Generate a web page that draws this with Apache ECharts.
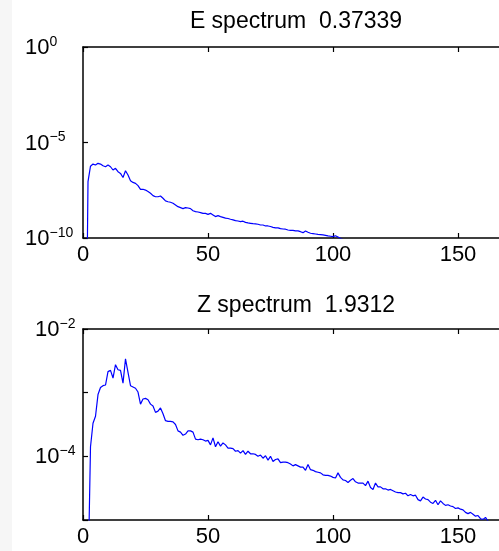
<!DOCTYPE html>
<html>
<head>
<meta charset="utf-8">
<title>E and Z spectrum</title>
<script src="https://cdn.jsdelivr.net/npm/echarts@6/dist/echarts.min.js"></script>
<style>
  html, body { margin: 0; padding: 0; background: #fff; }
  #chart { width: 499px; height: 551px; }
</style>
</head>
<body>
<div id="chart"></div>
<script>
// spectra, stored as log10 of the value, k = 1, 2, 3 ...
var eSpecLog10 = [
  -20, -7.05, -6.24, -6.13, -6.18, -6.09, -6.13, -6.22, -6.27, -6.18,
  -6.27, -6.44, -6.35, -6.53, -6.62, -6.83, -6.48, -6.70, -7.00, -7.09,
  -7.14, -7.26, -7.45, -7.45, -7.49, -7.57, -7.66, -7.78, -7.84, -7.84,
  -7.80, -7.92, -8.06, -8.10, -8.13, -8.18, -8.27, -8.36, -8.41, -8.46,
  -8.41, -8.43, -8.46, -8.57, -8.62, -8.64, -8.67, -8.71, -8.71, -8.76,
  -8.71, -8.79, -8.88, -8.83, -8.88, -8.92, -8.96, -8.98, -9.02, -9.05,
  -9.09, -9.11, -9.14, -9.12, -9.18, -9.21, -9.23, -9.25, -9.26, -9.28,
  -9.32, -9.32, -9.37, -9.37, -9.40, -9.44, -9.47, -9.47, -9.51, -9.53,
  -9.54, -9.58, -9.60, -9.60, -9.63, -9.63, -9.67, -9.72, -9.63, -9.70,
  -9.75, -9.77, -9.79, -9.81, -9.82, -9.84, -9.86, -9.89, -9.91, -9.93,
  -9.88, -9.95, -10.02, -10.08, -10.12, -10.18, -10.22, -10.26, -10.30, -10.33
];

var zSpecLog10 = [
  -20, -6.00, -3.85, -3.48, -3.37, -3.03, -2.92, -2.89, -2.88, -2.67,
  -2.65, -2.77, -2.56, -2.64, -2.65, -2.85, -2.47, -2.68, -2.89, -2.91,
  -2.93, -2.99, -3.18, -3.10, -3.09, -3.11, -3.18, -3.21, -3.31, -3.29,
  -3.24, -3.33, -3.44, -3.45, -3.45, -3.46, -3.50, -3.60, -3.62, -3.67,
  -3.65, -3.60, -3.60, -3.62, -3.73, -3.74, -3.73, -3.74, -3.76, -3.75,
  -3.82, -3.71, -3.85, -3.77, -3.84, -3.79, -3.82, -3.87, -3.87, -3.88,
  -3.92, -3.91, -3.95, -3.91, -3.97, -3.92, -3.96, -3.96, -3.97, -4.00,
  -3.98, -4.03, -3.99, -4.06, -4.00, -4.08, -4.05, -4.04, -4.10, -4.09,
  -4.09, -4.10, -4.12, -4.15, -4.13, -4.15, -4.17, -4.17, -4.22, -4.13,
  -4.21, -4.22, -4.24, -4.25, -4.26, -4.29, -4.30, -4.30, -4.31, -4.33,
  -4.34, -4.26, -4.33, -4.37, -4.38, -4.41, -4.375, -4.35, -4.40, -4.42,
  -4.42, -4.42, -4.46, -4.39, -4.49, -4.52, -4.42, -4.48, -4.48, -4.51,
  -4.51, -4.53, -4.52, -4.54, -4.56, -4.57, -4.57, -4.59, -4.58, -4.62,
  -4.60, -4.62, -4.61, -4.68, -4.70, -4.64, -4.67, -4.68, -4.72, -4.74,
  -4.69, -4.76, -4.70, -4.74, -4.77, -4.76, -4.78, -4.79, -4.82, -4.81,
  -4.83, -4.84, -4.88, -4.90, -4.88, -4.91, -4.94, -4.93, -4.98, -4.99,
  -4.96, -5.02, -5.05, -5.07, -5.10, -5.12, -5.15, -5.17, -5.20, -5.22
];

var titles = ['E spectrum  0.37339', 'Z spectrum  1.9312'];
var xTickStep = 50;

var font = '"Liberation Sans", Arial, Helvetica, sans-serif';

function toPairs(logs) {
  var out = [];
  for (var i = 0; i < logs.length; i++) {
    out.push([i + 1, Math.pow(10, logs[i])]);
  }
  return out;
}

// 10 with the exponent raised, like matlab does it
function powLabel(v, every) {
  var e = Math.round(Math.log10(v));
  if (e % every !== 0) return '';
  var s = e < 0 ? '\u2212' + (-e) : '' + e;
  return '{b|10}{s|' + s + '}';
}

var rich = {
  b: { fontSize: 22, lineHeight: 24, verticalAlign: 'bottom', fontFamily: font, color: '#000' },
  s: { fontSize: 14, verticalAlign: 'top', fontFamily: font, color: '#000' }
};

var axisLine = { show: true, onZero: false, lineStyle: { color: '#000', width: 1.5 } };
var axisTick = { show: true, inside: true, length: 5, lineStyle: { color: '#000', width: 1.2 } };

function xAxes(grid) {
  return [{
    type: 'value', gridIndex: grid, min: 0, max: 170, interval: xTickStep,
    axisLine: axisLine, axisTick: axisTick, splitLine: { show: false },
    axisLabel: { margin: 6, fontSize: 22, fontFamily: font, color: '#000', showMaxLabel: false }
  }, {
    type: 'value', gridIndex: grid, position: 'top', min: 0, max: 170, interval: xTickStep,
    axisLine: axisLine, axisTick: axisTick, splitLine: { show: false },
    axisLabel: { show: false }
  }];
}

var chart = echarts.init(document.getElementById('chart'));

var option = {
  backgroundColor: '#fff',
  animation: false,
  graphic: [{
    type: 'rect', left: 0, top: 0, z: -10,
    shape: { width: 12, height: 551 },
    style: { fill: '#f6f6f6' }
  }],
  title: [{
    text: titles[0], left: 296, top: 10, textAlign: 'center', padding: 0,
    textStyle: { fontSize: 23, fontWeight: 'normal', fontFamily: font, color: '#000' }
  }, {
    text: titles[1], left: 296, top: 294, textAlign: 'center', padding: 0,
    textStyle: { fontSize: 23, fontWeight: 'normal', fontFamily: font, color: '#000' }
  }],
  grid: [
    { left: 83, top: 47, width: 425, height: 191, outerBoundsMode: 'none' },
    { left: 83, top: 329, width: 425, height: 191, outerBoundsMode: 'none' }
  ],
  xAxis: xAxes(0).concat(xAxes(1)),
  yAxis: [{
    type: 'log', logBase: 10, gridIndex: 0, min: 1e-10, max: 1, interval: 5,
    axisLine: axisLine, axisTick: axisTick, splitLine: { show: false },
    axisLabel: { align: 'left', margin: 58, formatter: function (v) { return powLabel(v, 5); }, rich: rich }
  }, {
    type: 'log', logBase: 10, gridIndex: 1, min: 1e-5, max: 1e-2, interval: 1,
    axisLine: axisLine, axisTick: axisTick, splitLine: { show: false },
    axisLabel: { align: 'left', margin: 48, formatter: function (v) { return powLabel(v, 2); }, rich: rich }
  }],
  series: [{
    type: 'line', xAxisIndex: 0, yAxisIndex: 0,
    data: toPairs(eSpecLog10),
    showSymbol: false, clip: true,
    lineStyle: { color: '#0000ff', width: 1.2 }
  }, {
    type: 'line', xAxisIndex: 2, yAxisIndex: 1,
    data: toPairs(zSpecLog10),
    showSymbol: false, clip: true,
    lineStyle: { color: '#0000ff', width: 1.2 }
  }]
};

chart.setOption(option);
</script>
</body>
</html>
